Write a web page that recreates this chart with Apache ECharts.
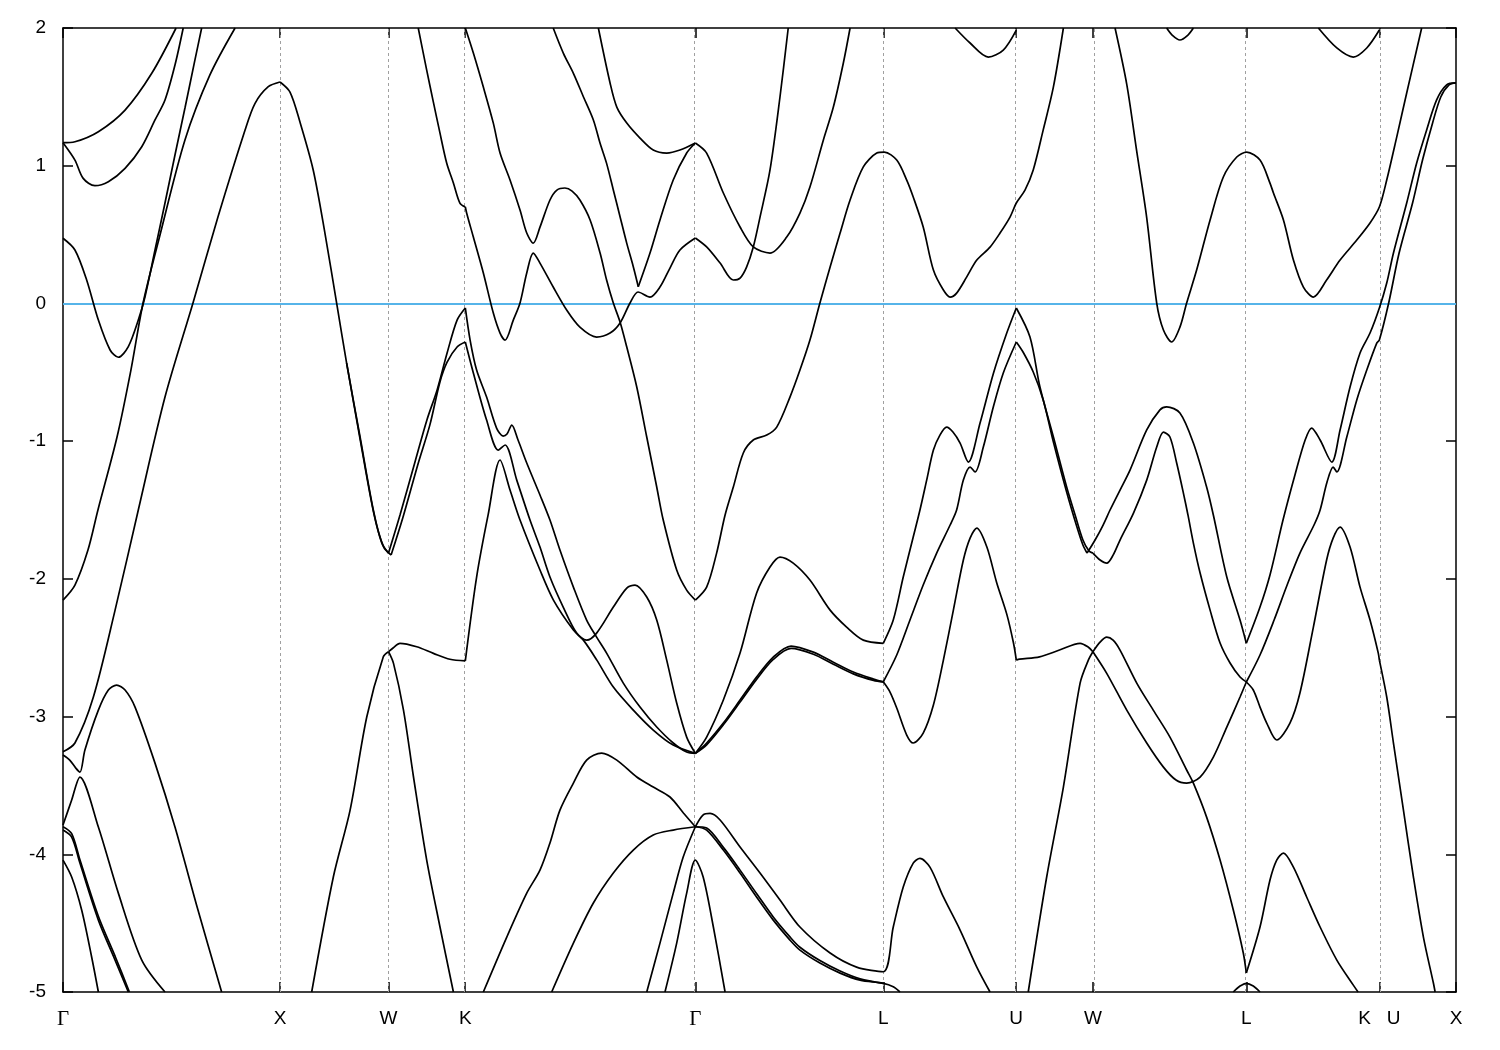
<!DOCTYPE html>
<html><head><meta charset="utf-8">
<script src="https://cdn.jsdelivr.net/npm/echarts@6/dist/echarts.min.js"></script>
<style>html,body{margin:0;padding:0;background:#fff}#chart{width:1500px;height:1050px}</style>
</head><body><div id="chart"></div>
<script>
// high-symmetry points (path distance, 2pi/a units) and labels
const kTicks = [0, 1, 1.5, 1.8536, 2.9142, 3.7802, 4.3926, 4.7462, 5.4533, 6.0657, 6.4192];
const kLabels = ['Γ', 'X', 'W', 'K', 'Γ', 'L', 'U', 'W', 'L', 'K   U', 'X'];
const eMin = -5, eMax = 2, eStep = 1;

// ---- Gamma - X ----
const bandA = [[0,1.167],[0.055,1.174],[0.163,1.247],[0.286,1.404],[0.409,1.671],[0.521,2.0]];
const bandB = [[0,1.167],[0.055,1.041],[0.093,0.908],[0.147,0.855],[0.209,0.884],[0.286,0.981],[0.363,1.138],[0.424,1.332],[0.470,1.477],[0.516,1.731],[0.554,2.0]];
const bandC = [[0,-2.154],[0.055,-2.045],[0.115,-1.791],[0.161,-1.5],[0.249,-0.97],[0.313,-0.484],[0.369,0.003],[0.447,0.497],[0.562,1.187],[0.677,1.659],[0.793,2.0]];
const bandD = [[0,0.473],[0.055,0.388],[0.109,0.17],[0.163,-0.121],[0.217,-0.338],[0.255,-0.391],[0.301,-0.314],[0.347,-0.121],[0.378,0.049],[0.424,0.388],[0.470,0.729],[0.516,1.078],[0.562,1.419],[0.608,1.768],[0.639,2.0]];
const bandE = [[0,-3.256],[0.055,-3.192],[0.140,-2.858],[0.240,-2.227],[0.347,-1.5],[0.470,-0.68],[0.599,0.003],[0.714,0.627],[0.839,1.259],[0.885,1.453],[0.946,1.574],[1.0,1.608]];
const bandF = [[0,-3.279],[0.031,-3.316],[0.059,-3.374],[0.078,-3.403],[0.101,-3.243],[0.163,-2.953],[0.209,-2.807],[0.247,-2.771],[0.286,-2.807],[0.332,-2.931],[0.424,-3.338],[0.516,-3.802],[0.622,-4.405],[0.731,-5.0]];
const bandG = [[0,-3.788],[0.040,-3.606],[0.078,-3.439],[0.163,-3.802],[0.255,-4.282],[0.363,-4.768],[0.470,-5.0]];
const bandH = [[0,-3.824],[0.040,-3.875],[0.078,-4.064],[0.163,-4.478],[0.240,-4.768],[0.301,-5.0]];
const bandH2 = [[0,-3.80],[0.040,-3.85],[0.078,-4.04],[0.163,-4.45],[0.240,-4.74],[0.306,-5.0]];
const bandI = [[0,-4.042],[0.040,-4.165],[0.086,-4.405],[0.132,-4.746],[0.163,-5.0]];

// ---- X - W - K ----
const xwDown = [[1.0,1.608],[1.046,1.535],[1.092,1.317],[1.153,0.969],[1.207,0.511],[1.261,0.003],[1.307,-0.433],[1.369,-0.97],[1.430,-1.5],[1.469,-1.74],[1.5,-1.813]];
const xwDown2 = [[1.307,-0.433],[1.369,-0.985],[1.433,-1.53],[1.478,-1.77],[1.512,-1.827]];
const xwRise = [[1.146,-5.0],[1.246,-4.163],[1.323,-3.679],[1.4,-3.001],[1.476,-2.566],[1.5,-2.529]];
const wDown = [[1.5,-2.529],[1.523,-2.614],[1.569,-2.953],[1.615,-3.437],[1.676,-4.042],[1.737,-4.526],[1.799,-5.0]];
const wkHump = [[1.5,-2.529],[1.521,-2.502],[1.553,-2.468],[1.630,-2.493],[1.707,-2.541],[1.783,-2.584],[1.854,-2.595]];
const wkUp1 = [[1.5,-1.813],[1.553,-1.537],[1.622,-1.151],[1.677,-0.846],[1.724,-0.628],[1.770,-0.360],[1.816,-0.121],[1.854,-0.033]];
const wkUp2 = [[1.512,-1.827],[1.567,-1.551],[1.636,-1.166],[1.691,-0.88],[1.737,-0.57],[1.770,-0.426],[1.816,-0.316],[1.854,-0.280]];
const wkTop = [[1.637,2.0],[1.676,1.694],[1.707,1.46],[1.737,1.238],[1.768,1.02],[1.799,0.875],[1.829,0.729],[1.854,0.70]];

// ---- K - Gamma ----
const kgP = [[1.854,0.70],[1.860,0.657],[1.891,0.482],[1.937,0.221],[1.983,-0.07],[2.014,-0.215],[2.037,-0.266],[2.075,-0.121],[2.106,0.003],[2.137,0.221],[2.167,0.366],[2.198,0.293],[2.259,0.119],[2.321,-0.048],[2.382,-0.172],[2.459,-0.244],[2.521,-0.215],[2.567,-0.142],[2.613,0.003],[2.650,0.083],[2.705,0.046],[2.751,0.119],[2.797,0.257],[2.843,0.388],[2.914,0.475]];
const kgQ = [[1.854,2.0],[1.891,1.818],[1.937,1.571],[1.983,1.309],[2.014,1.092],[2.060,0.896],[2.106,0.678],[2.137,0.511],[2.167,0.438],[2.198,0.554],[2.244,0.751],[2.276,0.823],[2.313,0.838],[2.346,0.816],[2.382,0.751],[2.429,0.606],[2.475,0.366],[2.505,0.17],[2.536,0.003],[2.567,-0.135],[2.598,-0.317],[2.644,-0.607],[2.690,-0.97],[2.736,-1.333],[2.766,-1.573],[2.828,-1.936],[2.874,-2.082],[2.914,-2.154]];
const kgL1 = [[2.259,2.0],[2.306,1.816],[2.352,1.671],[2.398,1.501],[2.444,1.332],[2.475,1.163],[2.505,1.017],[2.536,0.824],[2.567,0.630],[2.598,0.436],[2.628,0.267],[2.651,0.121]];
const kgL3 = [[2.651,0.121],[2.705,0.366],[2.751,0.606],[2.812,0.896],[2.874,1.092],[2.914,1.165]];
const kgL2 = [[2.467,2.0],[2.521,1.601],[2.552,1.426],[2.598,1.31],[2.659,1.201],[2.720,1.114],[2.782,1.092],[2.843,1.114],[2.914,1.165]];
const kgA = [[1.854,-0.033],[1.876,-0.266],[1.906,-0.484],[1.952,-0.68],[1.998,-0.905],[2.028,-0.963],[2.046,-0.948],[2.068,-0.883],[2.097,-0.992],[2.137,-1.159],[2.198,-1.391],[2.244,-1.573],[2.290,-1.791],[2.352,-2.06],[2.413,-2.299],[2.459,-2.423],[2.505,-2.539],[2.582,-2.757],[2.659,-2.931],[2.736,-3.076],[2.812,-3.192],[2.874,-3.258],[2.914,-3.267]];
const kgB = [[1.854,-0.28],[1.891,-0.505],[1.952,-0.847],[2.006,-1.065],[2.037,-1.028],[2.091,-1.283],[2.152,-1.573],[2.198,-1.769],[2.244,-1.987],[2.305,-2.205],[2.367,-2.394],[2.413,-2.445],[2.459,-2.394],[2.536,-2.205],[2.598,-2.067],[2.636,-2.045],[2.690,-2.132],[2.736,-2.299],[2.782,-2.59],[2.828,-2.902],[2.874,-3.149],[2.914,-3.267]];
const kgC = [[1.854,-2.595],[1.906,-1.987],[1.959,-1.536],[2.014,-1.137],[2.060,-1.355],[2.106,-1.573],[2.198,-1.936],[2.260,-2.154],[2.352,-2.372],[2.398,-2.445],[2.460,-2.59],[2.536,-2.786],[2.628,-2.953],[2.720,-3.098],[2.812,-3.207],[2.914,-3.267]];
const kgR = [[1.937,-5.0],[2.045,-4.601],[2.137,-4.282],[2.198,-4.115],[2.244,-3.918],[2.290,-3.679],[2.352,-3.483],[2.413,-3.316],[2.482,-3.265],[2.552,-3.316],[2.644,-3.439],[2.720,-3.512],[2.797,-3.584],[2.859,-3.7],[2.914,-3.8]];
const kgArc = [[2.252,-5.0],[2.352,-4.645],[2.444,-4.354],[2.536,-4.136],[2.628,-3.969],[2.720,-3.86],[2.812,-3.824],[2.914,-3.8]];
const kgLow = [[2.690,-5.0],[2.751,-4.645],[2.812,-4.282],[2.858,-4.02],[2.914,-3.8]];
const gPeak4 = [[2.774,-5.0],[2.828,-4.645],[2.874,-4.282],[2.914,-4.042],[2.950,-4.165],[2.997,-4.528],[3.051,-5.0]];

// ---- Gamma - L ----
const glA = [[2.914,1.165],[2.966,1.092],[3.043,0.802],[3.120,0.555],[3.181,0.41],[3.258,0.366],[3.335,0.482],[3.396,0.656],[3.442,0.845],[3.504,1.187],[3.550,1.426],[3.596,1.746],[3.627,2.0]];
const glB = [[2.914,0.475],[2.966,0.41],[3.028,0.293],[3.089,0.17],[3.120,0.184],[3.150,0.264],[3.181,0.41],[3.212,0.627],[3.258,0.969],[3.304,1.499],[3.342,2.0]];
const glC = [[2.914,-2.154],[2.966,-2.06],[3.012,-1.813],[3.051,-1.536],[3.089,-1.333],[3.135,-1.086],[3.181,-0.992],[3.243,-0.956],[3.289,-0.898],[3.350,-0.68],[3.396,-0.484],[3.442,-0.266],[3.488,0.003],[3.535,0.264],[3.581,0.511],[3.627,0.751],[3.688,0.991],[3.750,1.092],[3.785,1.099],[3.842,1.041],[3.888,0.896],[3.918,0.773],[3.964,0.555],[4.011,0.242],[4.057,0.097],[4.088,0.046],[4.118,0.075],[4.164,0.191],[4.211,0.315],[4.272,0.409],[4.318,0.511],[4.364,0.627],[4.393,0.729],[4.433,0.823],[4.471,0.969],[4.517,1.26],[4.564,1.572],[4.610,2.0]];
const luTop = [[4.111,2.0],[4.180,1.891],[4.264,1.789],[4.333,1.84],[4.393,1.985]];
const glD = [[2.914,-3.267],[2.966,-3.149],[3.043,-2.88],[3.120,-2.539],[3.196,-2.104],[3.258,-1.914],[3.304,-1.842],[3.365,-1.886],[3.442,-2.009],[3.535,-2.227],[3.611,-2.35],[3.688,-2.445],[3.780,-2.468]];
const glE1 = [[2.914,-3.267],[2.966,-3.192],[3.043,-3.047],[3.120,-2.88],[3.196,-2.713],[3.273,-2.568],[3.355,-2.488],[3.458,-2.532],[3.550,-2.605],[3.642,-2.677],[3.735,-2.728],[3.780,-2.748]];
const glE2 = [[2.914,-3.267],[2.966,-3.205],[3.043,-3.06],[3.120,-2.895],[3.196,-2.73],[3.273,-2.585],[3.355,-2.505],[3.458,-2.548],[3.550,-2.62],[3.642,-2.69],[3.735,-2.737],[3.780,-2.748]];
const glF1 = [[2.914,-3.8],[2.966,-3.824],[3.043,-3.969],[3.120,-4.136],[3.196,-4.31],[3.273,-4.478],[3.350,-4.623],[3.396,-4.696],[3.488,-4.79],[3.581,-4.863],[3.673,-4.914],[3.780,-4.937],[3.826,-4.962],[3.857,-5.0]];
const glF2 = [[2.914,-3.8],[2.966,-3.81],[3.043,-3.95],[3.120,-4.115],[3.196,-4.285],[3.273,-4.455],[3.350,-4.60],[3.396,-4.675],[3.488,-4.772],[3.581,-4.848],[3.673,-4.905],[3.780,-4.937]];
const glG = [[2.914,-3.8],[2.949,-3.715],[2.982,-3.703],[3.028,-3.751],[3.120,-3.947],[3.212,-4.136],[3.304,-4.332],[3.396,-4.528],[3.535,-4.717],[3.657,-4.819],[3.780,-4.853],[3.826,-4.528],[3.872,-4.238],[3.918,-4.064],[3.949,-4.03],[3.995,-4.093],[4.057,-4.31],[4.134,-4.55],[4.211,-4.819],[4.272,-5.0]];

// ---- L - U ----
const luA = [[3.780,-2.468],[3.826,-2.299],[3.872,-1.987],[3.918,-1.696],[3.949,-1.5],[3.980,-1.283],[4.011,-1.065],[4.041,-0.956],[4.072,-0.898],[4.101,-0.934],[4.134,-1.014],[4.172,-1.152],[4.226,-0.869],[4.288,-0.505],[4.349,-0.215],[4.393,-0.033]];
const luB = [[3.780,-2.748],[3.842,-2.553],[3.903,-2.299],[3.964,-2.045],[4.026,-1.813],[4.088,-1.609],[4.118,-1.5],[4.149,-1.283],[4.180,-1.188],[4.203,-1.224],[4.241,-1.043],[4.287,-0.752],[4.333,-0.505],[4.393,-0.28]];
const luC = [[3.780,-2.748],[3.811,-2.822],[3.842,-2.938],[3.888,-3.134],[3.918,-3.192],[3.964,-3.12],[4.011,-2.916],[4.057,-2.59],[4.103,-2.227],[4.149,-1.863],[4.180,-1.704],[4.211,-1.631],[4.257,-1.767],[4.303,-2.03],[4.349,-2.256],[4.380,-2.466],[4.393,-2.59]];

// ---- U - W - L ----
const uwHump = [[4.393,-2.59],[4.408,-2.583],[4.500,-2.566],[4.592,-2.517],[4.687,-2.468],[4.724,-2.495],[4.746,-2.529]];
const uw1 = [[4.393,-0.033],[4.456,-0.244],[4.502,-0.607],[4.564,-0.97],[4.625,-1.333],[4.664,-1.536],[4.700,-1.718],[4.728,-1.798],[4.746,-1.813]];
const uw2 = [[4.393,-0.28],[4.424,-0.353],[4.471,-0.498],[4.517,-0.701],[4.564,-1.006],[4.625,-1.369],[4.671,-1.616],[4.700,-1.754],[4.719,-1.813]];
const wRise = [[4.448,-5.0],[4.533,-4.165],[4.610,-3.512],[4.687,-2.757],[4.725,-2.59],[4.746,-2.529]];
const wl1 = [[4.746,-1.813],[4.779,-1.863],[4.810,-1.886],[4.839,-1.828],[4.871,-1.718],[4.933,-1.522],[4.994,-1.283],[5.040,-1.043],[5.071,-0.934],[5.101,-0.97],[5.132,-1.159],[5.163,-1.377],[5.184,-1.536],[5.209,-1.74],[5.240,-1.958],[5.286,-2.227],[5.332,-2.466],[5.378,-2.611],[5.424,-2.713],[5.453,-2.748]];
const wl2 = [[4.719,-1.813],[4.756,-1.718],[4.793,-1.609],[4.825,-1.5],[4.871,-1.355],[4.917,-1.21],[4.994,-0.919],[5.055,-0.773],[5.086,-0.751],[5.147,-0.795],[5.209,-1.014],[5.270,-1.333],[5.301,-1.536],[5.363,-1.987],[5.424,-2.299],[5.453,-2.468]];
const wlHump = [[4.746,-2.529],[4.779,-2.459],[4.810,-2.423],[4.839,-2.445],[4.871,-2.517],[4.948,-2.757],[5.024,-2.953],[5.101,-3.149],[5.178,-3.388],[5.209,-3.483],[5.270,-3.73],[5.332,-4.042],[5.393,-4.405],[5.439,-4.717],[5.453,-4.862]];
const wl3 = [[4.746,-2.529],[4.809,-2.684],[4.902,-2.953],[4.994,-3.192],[5.071,-3.367],[5.129,-3.461],[5.178,-3.483],[5.240,-3.439],[5.301,-3.294],[5.363,-3.076],[5.424,-2.858],[5.453,-2.749]];
const wlTop = [[4.848,2.0],[4.902,1.591],[4.948,1.104],[4.994,0.622],[5.040,0.003],[5.071,-0.193],[5.109,-0.28],[5.147,-0.172],[5.178,0.003],[5.224,0.242],[5.286,0.606],[5.347,0.918],[5.409,1.063],[5.455,1.099],[5.516,1.041],[5.562,0.874],[5.578,0.802],[5.624,0.606],[5.670,0.315],[5.716,0.119],[5.762,0.046],[5.823,0.17],[5.885,0.315],[5.962,0.46],[6.023,0.584],[6.066,0.70],[6.100,0.896],[6.146,1.208],[6.192,1.528],[6.261,2.0]];
const wlDip = [[5.086,2.0],[5.111,1.949],[5.147,1.913],[5.184,1.949],[5.209,2.0]];

// ---- L - K | U - X ----
const lkDip = [[5.785,2.0],[5.870,1.855],[5.946,1.789],[6.008,1.855],[6.066,1.985]];
const lkLow = [[5.453,-4.862],[5.516,-4.528],[5.562,-4.187],[5.593,-4.042],[5.624,-3.991],[5.670,-4.093],[5.731,-4.31],[5.793,-4.528],[5.870,-4.768],[5.946,-4.95],[5.968,-5.0]];
const lDome = [[5.393,-5.0],[5.424,-4.957],[5.453,-4.937],[5.485,-4.957],[5.516,-5.0]];
const lkA = [[5.453,-2.468],[5.516,-2.205],[5.562,-1.972],[5.622,-1.573],[5.677,-1.246],[5.724,-0.992],[5.754,-0.905],[5.793,-0.992],[5.847,-1.152],[5.885,-0.919],[5.931,-0.607],[5.977,-0.36],[6.023,-0.215],[6.066,-0.033],[6.100,0.148],[6.131,0.366],[6.192,0.729],[6.238,1.02],[6.284,1.26],[6.330,1.478],[6.376,1.587],[6.419,1.601]];
const lkB = [[5.453,-2.749],[5.516,-2.553],[5.581,-2.299],[5.641,-2.045],[5.700,-1.813],[5.765,-1.609],[5.793,-1.5],[5.825,-1.297],[5.853,-1.188],[5.870,-1.224],[5.916,-0.97],[5.962,-0.701],[6.008,-0.484],[6.054,-0.288],[6.066,-0.266],[6.109,0.003],[6.157,0.366],[6.219,0.729],[6.265,1.041],[6.311,1.309],[6.349,1.499],[6.387,1.587],[6.419,1.601]];
const lkC = [[5.453,-2.749],[5.485,-2.807],[5.516,-2.931],[5.547,-3.047],[5.593,-3.17],[5.654,-3.047],[5.700,-2.829],[5.762,-2.35],[5.823,-1.863],[5.853,-1.704],[5.885,-1.624],[5.931,-1.769],[5.977,-2.06],[6.023,-2.299],[6.061,-2.539],[6.066,-2.59]];
const kxDown = [[6.066,-2.59],[6.100,-2.858],[6.131,-3.192],[6.177,-3.679],[6.223,-4.165],[6.269,-4.601],[6.315,-4.935],[6.323,-5.0]];

const bands = [bandA, bandB, bandC, bandD, bandE, bandF, bandG, bandH, bandH2, bandI,
  xwDown, xwDown2, xwRise, wDown, wkHump, wkUp1, wkUp2, wkTop,
  kgP, kgQ, kgL1, kgL3, kgL2, kgA, kgB, kgC, kgR, kgArc, kgLow, gPeak4,
  glA, glB, glC, luTop, glD, glE1, glE2, glF1, glF2, glG,
  luA, luB, luC,
  uwHump, uw1, uw2, wRise, wl1, wl2, wlHump, wl3, wlTop, wlDip,
  lkDip, lkLow, lDome, lkA, lkB, lkC, kxDown];

const chart = echarts.init(document.getElementById('chart'), null, {renderer: 'canvas'});
const font = 'Liberation Sans';
const labelFor = v => {
  let best = 0;
  kTicks.forEach((t, i) => { if (Math.abs(t - v) < Math.abs(kTicks[best] - v)) best = i; });
  const s = kLabels[best];
  return s === 'Γ' ? '{g|Γ}' : s;
};

const series = bands.map(d => ({
  type: 'line', data: d, symbol: 'none', showSymbol: false, smooth: 0.3,
  lineStyle: {color: '#000', width: 1.7}, z: 5, silent: true,
  xAxisIndex: 0, yAxisIndex: 0
}));
series.push({
  type: 'line', data: [[0, 0]], symbol: 'none', lineStyle: {width: 0}, z: 1, silent: true,
  xAxisIndex: 0, yAxisIndex: 0,
  markLine: {
    silent: true, symbol: 'none', animation: false, label: {show: false},
    data: kTicks.slice(1, -1).map(v => ({xAxis: v, lineStyle: {color: '#a0a0a0', width: 1, type: [3, 3]}}))
      .concat([{yAxis: 0, lineStyle: {color: '#56B4E9', width: 2, type: 'solid'}}])
  }
});

const axisLineStyle = {color: '#000', width: 1.5};
chart.setOption({
  animation: false,
  backgroundColor: '#fff',
  grid: {left: 63, right: 44, top: 28, bottom: 58, containLabel: false},
  xAxis: [
    {type: 'value', min: 0, max: 6.4192, position: 'bottom',
     axisLine: {show: true, onZero: false, lineStyle: axisLineStyle},
     axisTick: {show: true, inside: true, length: 10, customValues: kTicks, lineStyle: axisLineStyle},
     axisLabel: {show: true, customValues: kTicks, formatter: labelFor, margin: 17, fontSize: 19,
       color: '#000', fontFamily: font,
       rich: {g: {fontFamily: 'Liberation Serif', fontSize: 21, color: '#000'}}},
     splitLine: {show: false}},
    {type: 'value', min: 0, max: 6.4192, position: 'top',
     axisLine: {show: true, onZero: false, lineStyle: axisLineStyle},
     axisTick: {show: true, inside: true, length: 10, customValues: kTicks, lineStyle: axisLineStyle},
     axisLabel: {show: false}, splitLine: {show: false}}
  ],
  yAxis: [
    {type: 'value', min: eMin, max: eMax, interval: eStep, position: 'left',
     axisLine: {show: true, onZero: false, lineStyle: axisLineStyle},
     axisTick: {show: true, inside: true, length: 10, lineStyle: axisLineStyle},
     axisLabel: {show: true, margin: 17, fontSize: 19, color: '#000', fontFamily: font},
     splitLine: {show: false}},
    {type: 'value', min: eMin, max: eMax, interval: eStep, position: 'right',
     axisLine: {show: true, onZero: false, lineStyle: axisLineStyle},
     axisTick: {show: true, inside: true, length: 10, lineStyle: axisLineStyle},
     axisLabel: {show: false}, splitLine: {show: false}}
  ],
  series: series
});
</script>
</body></html>
